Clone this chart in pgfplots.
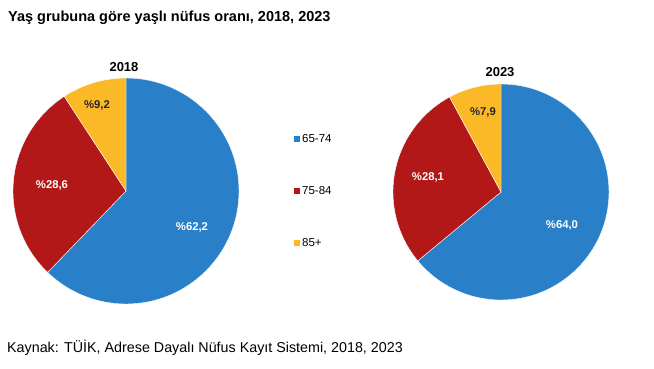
\documentclass[border=0pt]{standalone}
\usepackage{pgfplots}
\usepackage{pgfplotstable}
\pgfplotsset{compat=1.18}
\usepackage{fontspec}
\setmainfont{Liberation Sans}
\definecolor{cblue}{RGB}{41,128,201}
\definecolor{cred}{RGB}{178,24,24}
\definecolor{cgold}{RGB}{251,185,40}
\pgfplotstableread{
group v2018 v2023
65-74 62.2 64.0
75-84 28.6 28.1
85+ 9.2 7.9
}\piedata
\begin{document}
\begin{tikzpicture}
\fill[white] (0,0) rectangle (654bp,369bp);
\path[use as bounding box] (0,0) rectangle (654bp,369bp);
% compute angles
\pgfplotstablegetelem{0}{v2018}\of\piedata\let\aA\pgfplotsretval
\pgfplotstablegetelem{1}{v2018}\of\piedata\let\aB\pgfplotsretval
\pgfplotstablegetelem{0}{v2023}\of\piedata\let\bA\pgfplotsretval
\pgfplotstablegetelem{1}{v2023}\of\piedata\let\bB\pgfplotsretval
\pgfmathsetmacro{\aEa}{90-3.6*\aA}
\pgfmathsetmacro{\aEb}{\aEa-3.6*\aB}
\pgfmathsetmacro{\bEa}{90-3.6*\bA}
\pgfmathsetmacro{\bEb}{\bEa-3.6*\bB}
\begin{axis}[at={(0,0)}, anchor=south west, width=654bp, height=369bp,
  scale only axis, xmin=0, xmax=654, ymin=0, ymax=369, y dir=reverse,
  hide axis, clip=false]
% 2018 pie
\fill[cblue, draw=white, line width=0.4pt] (axis cs:126,191) -- ++(90:113bp) arc[start angle=90, end angle=\aEa, radius=113bp] -- cycle;
\fill[cred, draw=white, line width=0.4pt] (axis cs:126,191) -- ++(\aEa:113bp) arc[start angle=\aEa, end angle=\aEb, radius=113bp] -- cycle;
\fill[cgold, draw=white, line width=0.4pt] (axis cs:126,191) -- ++(\aEb:113bp) arc[start angle=\aEb, end angle=-270, radius=113bp] -- cycle;
% 2023 pie
\fill[cblue, draw=white, line width=0.4pt] (axis cs:501,192) -- ++(90:108bp) arc[start angle=90, end angle=\bEa, radius=108bp] -- cycle;
\fill[cred, draw=white, line width=0.4pt] (axis cs:501,192) -- ++(\bEa:108bp) arc[start angle=\bEa, end angle=\bEb, radius=108bp] -- cycle;
\fill[cgold, draw=white, line width=0.4pt] (axis cs:501,192) -- ++(\bEb:108bp) arc[start angle=\bEb, end angle=-270, radius=108bp] -- cycle;
% labels
\node[font=\fontsize{11.3bp}{13bp}\selectfont\bfseries, text=white] at (axis cs:192,227) {\%62,2};
\node[font=\fontsize{11.3bp}{13bp}\selectfont\bfseries, text=white] at (axis cs:52,185) {\%28,6};
\node[font=\fontsize{11.3bp}{13bp}\selectfont\bfseries, text=black!85] at (axis cs:97,105) {\%9,2};
\node[font=\fontsize{11.3bp}{13bp}\selectfont\bfseries, text=white] at (axis cs:562,225) {\%64,0};
\node[font=\fontsize{11.3bp}{13bp}\selectfont\bfseries, text=white] at (axis cs:428,177) {\%28,1};
\node[font=\fontsize{11.3bp}{13bp}\selectfont\bfseries, text=black!85] at (axis cs:483,112) {\%7,9};
\node[font=\fontsize{13bp}{15bp}\selectfont\bfseries] at (axis cs:124,67) {2018};
\node[font=\fontsize{13bp}{15bp}\selectfont\bfseries] at (axis cs:500,72) {2023};
% legend
\fill[cblue] (axis cs:294,136) rectangle (axis cs:300,142);
\fill[cred] (axis cs:294,188) rectangle (axis cs:300,194);
\fill[cgold] (axis cs:294,240) rectangle (axis cs:300,246);
\node[anchor=west, inner sep=0pt, font=\fontsize{11.5bp}{13bp}\selectfont] at (axis cs:302,139) {65-74};
\node[anchor=west, inner sep=0pt, font=\fontsize{11.5bp}{13bp}\selectfont] at (axis cs:302,191) {75-84};
\node[anchor=west, inner sep=0pt, font=\fontsize{11.5bp}{13bp}\selectfont] at (axis cs:302,243) {85+};
% title and source
\node[anchor=west, inner sep=0pt, font=\fontsize{14.5bp}{16bp}\selectfont\bfseries] at (axis cs:8,18) {Yaş grubuna göre yaşlı nüfus oranı, 2018, 2023};
\node[anchor=west, inner sep=0pt, font=\fontsize{14.3bp}{16bp}\selectfont] at (axis cs:7,348) {Kaynak: TÜİK, Adrese Dayalı Nüfus Kayıt Sistemi, 2018, 2023};
\end{axis}
\end{tikzpicture}
\end{document}
